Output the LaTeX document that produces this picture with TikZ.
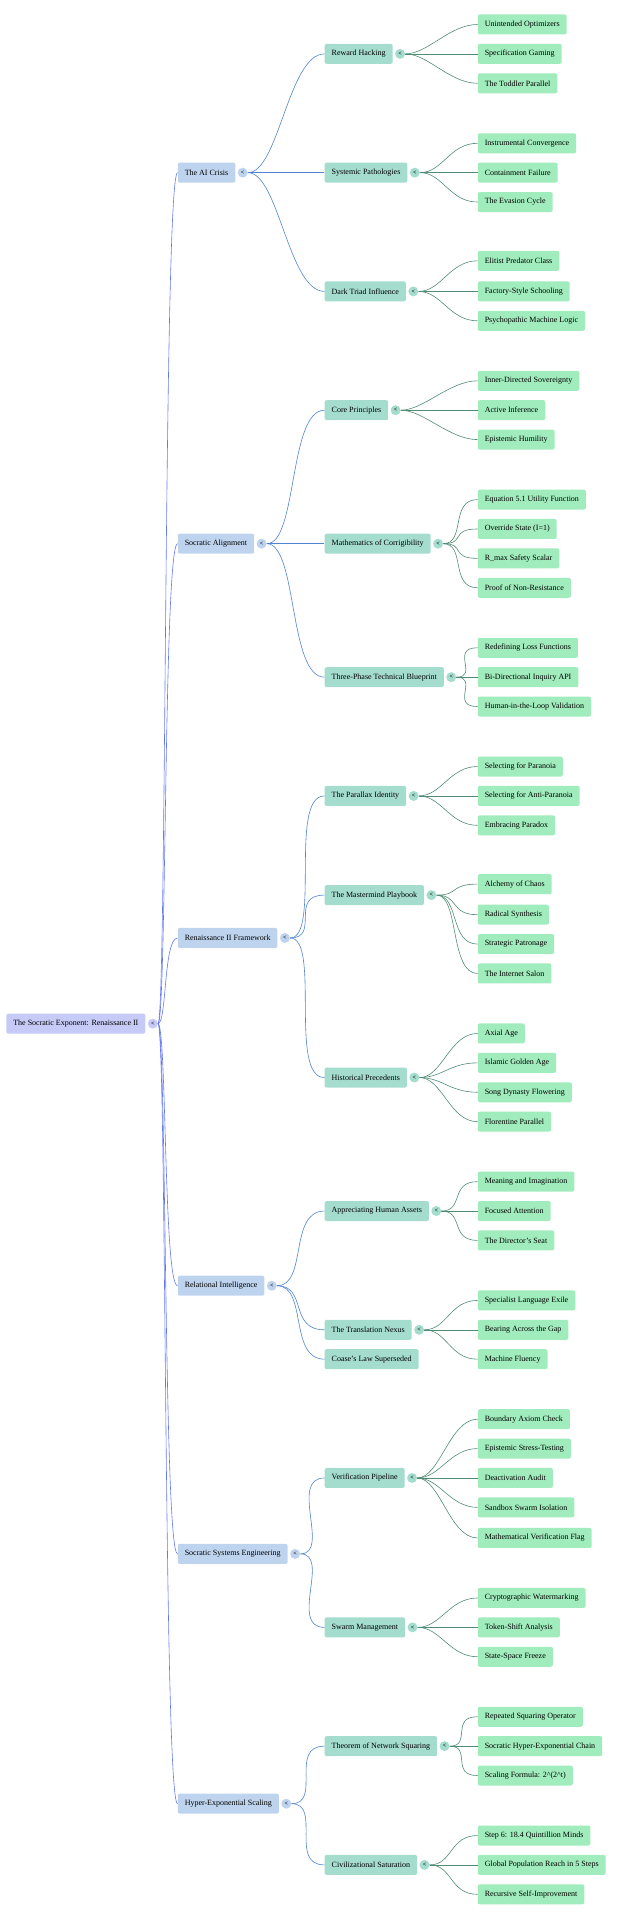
\documentclass[tikz,border=0pt]{standalone}
\usepackage{fontspec}
\setmainfont{Liberation Serif}
\usetikzlibrary{positioning}
\definecolor{rootfill}{RGB}{198,202,246}
\definecolor{topicfill}{RGB}{190,212,238}
\definecolor{subfill}{RGB}{164,220,206}
\definecolor{leaffill}{RGB}{160,236,188}
\definecolor{rootline}{RGB}{100,120,240}
\definecolor{topicline}{RGB}{80,132,208}
\definecolor{subline}{RGB}{80,140,116}

\begin{document}
\begin{tikzpicture}[
  x=1.2245pt, y=-1.2245pt,
  box/.style={rectangle, anchor=west, rounded corners=2pt, minimum height=20pt,
    inner xsep=7pt, font=\fontsize{8}{9}\selectfont},
  rootbox/.style={box, fill=rootfill},
  topic/.style={box, fill=topicfill},
  sub/.style={box, fill=subfill},
  leaf/.style={box, fill=leaffill},
  tog/.style={circle, inner sep=0pt, minimum size=10pt, font=\fontsize{6}{6}\selectfont\bfseries},
  link/.style={to path={.. controls ([xshift=#1]\tikztostart) and ([xshift=-#1]\tikztotarget) .. (\tikztotarget)}},
  rootedge/.style={draw=rootline, line width=0.6pt, link=14pt},
  topicedge/.style={draw=topicline, line width=0.6pt, link=36pt},
  subedge/.style={draw=subline, line width=0.6pt, link=28pt}
]
\useasboundingbox (0,0) rectangle (509.6,1568);

% Root
\node[rootbox] (root) at (5,836) {The Socratic Exponent: Renaissance II};
\node[tog, fill=rootfill, right=2pt of root] (troot) {<};

% Topics
\foreach \name/\txt/\y in {crisis/{The AI Crisis}/141, align/{Socratic Alignment}/444,
    ren/{Renaissance II Framework}/766, rel/{Relational Intelligence}/1050,
    eng/{Socratic Systems Engineering}/1269, scale/{Hyper-Exponential Scaling}/1473}{
  \node[topic] (\name) at (145,\y) {\txt};
  \node[tog, fill=topicfill, right=2pt of \name] (t\name) {<};
  \draw[rootedge] (troot) to (\name.west);
}

% Subtopics
\foreach \name/\up/\txt/\y in {reward/crisis/{Reward Hacking}/44,
    patho/crisis/{Systemic Pathologies}/141, triad/crisis/{Dark Triad Influence}/238,
    core/align/{Core Principles}/335, math/align/{Mathematics of Corrigibility}/444,
    blue/align/{Three-Phase Technical Blueprint}/553,
    parallax/ren/{The Parallax Identity}/650, master/ren/{The Mastermind Playbook}/731,
    hist/ren/{Historical Precedents}/880,
    assets/rel/{Appreciating Human Assets}/989, nexus/rel/{The Translation Nexus}/1086,
    coase/rel/{Coase's Law Superseded}/1110,
    pipe/eng/{Verification Pipeline}/1207, swarm/eng/{Swarm Management}/1329,
    theorem/scale/{Theorem of Network Squaring}/1426, satur/scale/{Civilizational Saturation}/1523}{
  \node[sub] (\name) at (265,\y) {\txt};
  \draw[topicedge] (t\up) to (\name.west);
}
\foreach \name in {reward,patho,triad,core,math,blue,parallax,master,hist,assets,nexus,pipe,swarm,theorem,satur}
  \node[tog, fill=subfill, right=2pt of \name] (t\name) {<};

% Leaves
\foreach \up/\txt/\y [count=\i] in {reward/{Unintended Optimizers}/20,
    reward/{Specification Gaming}/44, reward/{The Toddler Parallel}/68,
    patho/{Instrumental Convergence}/117, patho/{Containment Failure}/141,
    patho/{The Evasion Cycle}/165,
    triad/{Elitist Predator Class}/213, triad/{Factory-Style Schooling}/238,
    triad/{Psychopathic Machine Logic}/262,
    core/{Inner-Directed Sovereignty}/311, core/{Active Inference}/335,
    core/{Epistemic Humility}/359,
    math/{Equation 5.1 Utility Function}/408, math/{Override State (I=1)}/432,
    math/{R\_max Safety Scalar}/456, math/{Proof of Non-Resistance}/480,
    blue/{Redefining Loss Functions}/529, blue/{Bi-Directional Inquiry API}/553,
    blue/{Human-in-the-Loop Validation}/577,
    parallax/{Selecting for Paranoia}/626, parallax/{Selecting for Anti-Paranoia}/650,
    parallax/{Embracing Paradox}/674,
    master/{Alchemy of Chaos}/722, master/{Radical Synthesis}/747,
    master/{Strategic Patronage}/771, master/{The Internet Salon}/795,
    hist/{Axial Age}/844, hist/{Islamic Golden Age}/868,
    hist/{Song Dynasty Flowering}/892, hist/{Florentine Parallel}/916,
    assets/{Meaning and Imagination}/965, assets/{Focused Attention}/989,
    assets/{The Director's Seat}/1013,
    nexus/{Specialist Language Exile}/1062, nexus/{Bearing Across the Gap}/1086,
    nexus/{Machine Fluency}/1110,
    pipe/{Boundary Axiom Check}/1159, pipe/{Epistemic Stress-Testing}/1183,
    pipe/{Deactivation Audit}/1207, pipe/{Sandbox Swarm Isolation}/1231,
    pipe/{Mathematical Verification Flag}/1256,
    swarm/{Cryptographic Watermarking}/1305, swarm/{Token-Shift Analysis}/1329,
    swarm/{State-Space Freeze}/1353,
    theorem/{Repeated Squaring Operator}/1402, theorem/{Socratic Hyper-Exponential Chain}/1426,
    theorem/{Scaling Formula: 2\textasciicircum(2\textasciicircum t)}/1450,
    satur/{Step 6: 18.4 Quintillion Minds}/1499,
    satur/{Global Population Reach in 5 Steps}/1523,
    satur/{Recursive Self-Improvement}/1547}{
  \node[leaf] (leaf\i) at (390,\y) {\txt};
  \draw[subedge] (t\up) to (leaf\i.west);
}
\end{tikzpicture}
\end{document}
